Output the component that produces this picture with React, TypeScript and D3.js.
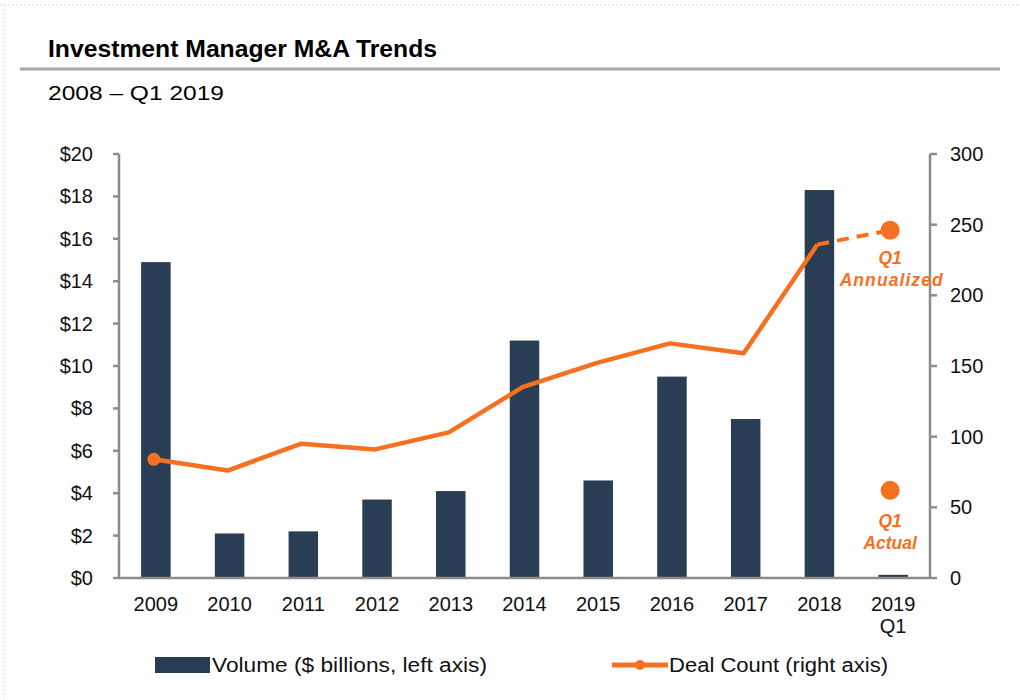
import React from "react";
import * as d3 from "d3";

const categories = ["2009", "2010", "2011", "2012", "2013", "2014", "2015", "2016", "2017", "2018", "2019 Q1"];
const volume = [14.9, 2.1, 2.2, 3.7, 4.1, 11.2, 4.6, 9.5, 7.5, 18.3, 0.15];
const dealCount = [84, 76, 95, 91, 103, 135, 152, 166, 159, 236];
const q1Annualized = 246;
const q1Actual = 62;
const leftTicks = [0, 2, 4, 6, 8, 10, 12, 14, 16, 18, 20];
const rightTicks = [0, 50, 100, 150, 200, 250, 300];

const W = 1020, H = 700;
const left = 119, right = 930, top = 154, bottom = 578;
const NAVY = "#293d55";
const ORANGE = "#f7701f";
const AXIS = "#8c8c8c";
const FONT = "'Liberation Sans', Arial, sans-serif";

export default function App() {
  const x = d3.scaleBand<string>().domain(categories).range([left, right]).paddingInner(0.6).paddingOuter(0.3);
  const yL = d3.scaleLinear().domain([0, 20]).range([bottom, top]);
  const yR = d3.scaleLinear().domain([0, 300]).range([bottom, top]);
  const cx = (c: string) => (x(c) as number) + x.bandwidth() / 2;

  const lineGen = d3.line<number>().x((_, i) => cx(categories[i]) - 2).y((d) => yR(d));
  const last = categories[categories.length - 1];
  const prev = categories[dealCount.length - 1];

  return (
    <svg width={W} height={H} style={{ position: "absolute", left: 0, top: 0, background: "#fff" }} fontFamily={FONT}>
      <line x1={0} x2={W} y1={5} y2={5} stroke="#d0d0d0" strokeDasharray="2,2" />
      <line x1={4} x2={4} y1={5} y2={H} stroke="#e0e0e0" strokeDasharray="2,2" />

      <text x={48} y={57} fontSize={23} fontWeight="bold" fill="#000" textLength={389} lengthAdjust="spacingAndGlyphs">
        Investment Manager M&amp;A Trends
      </text>
      <line x1={20} x2={1000} y1={69} y2={69} stroke="#a6a6a6" strokeWidth={3} />
      <text x={48} y={100} fontSize={21} fill="#000" textLength={176} lengthAdjust="spacingAndGlyphs">
        2008 – Q1 2019
      </text>

      {/* bars */}
      {volume.map((v, i) => (
        <rect key={i} x={x(categories[i])} y={yL(v)} width={x.bandwidth()} height={bottom - yL(v)} fill={NAVY} />
      ))}

      {/* axes */}
      <line x1={left} x2={left} y1={top} y2={bottom} stroke={AXIS} strokeWidth={2.5} />
      <line x1={right} x2={right} y1={top} y2={bottom} stroke={AXIS} strokeWidth={2.5} />
      <line x1={left} x2={right} y1={bottom} y2={bottom} stroke={AXIS} strokeWidth={2.5} />
      {leftTicks.map((t) => (
        <g key={"l" + t}>
          <line x1={left - 6} x2={left} y1={yL(t)} y2={yL(t)} stroke={AXIS} strokeWidth={2.5} />
          <text x={93} y={yL(t) + 7} fontSize={20} textAnchor="end" fill="#111">{"$" + t}</text>
        </g>
      ))}
      {rightTicks.map((t) => (
        <g key={"r" + t}>
          <line x1={right} x2={right + 7} y1={yR(t)} y2={yR(t)} stroke={AXIS} strokeWidth={2.5} />
          <text x={950} y={yR(t) + 7} fontSize={20} textAnchor="start" fill="#111">{t}</text>
        </g>
      ))}
      {categories.map((c) => {
        const parts = c.split(" ");
        return (
          <text key={c} x={cx(c)} y={611} fontSize={20} textAnchor="middle" fill="#111">
            {parts.map((p, j) => (
              <tspan key={j} x={cx(c)} dy={j === 0 ? 0 : 22}>{p}</tspan>
            ))}
          </text>
        );
      })}

      {/* line */}
      <path d={lineGen(dealCount) || ""} fill="none" stroke={ORANGE} strokeWidth={4.5} strokeLinejoin="round" />
      <circle cx={cx(categories[0]) - 2} cy={yR(dealCount[0])} r={6.5} fill={ORANGE} />
      <line x1={cx(prev) - 2} y1={yR(dealCount[dealCount.length - 1])} x2={cx(last) - 3} y2={yR(q1Annualized)}
        stroke={ORANGE} strokeWidth={4} strokeDasharray="12,8" />
      <circle cx={cx(last) - 3} cy={yR(q1Annualized)} r={9.5} fill={ORANGE} />
      <circle cx={cx(last) - 3} cy={yR(q1Actual)} r={9.5} fill={ORANGE} />

      <g fill={ORANGE} fontWeight="bold" fontStyle="italic" fontSize={17.5} textAnchor="middle">
        <text x={cx(last) - 3} y={264}>Q1</text>
        <text x={cx(last) - 2} y={286} textLength={103} lengthAdjust="spacing">Annualized</text>
        <text x={cx(last) - 3} y={527}>Q1</text>
        <text x={cx(last) - 3} y={549}>Actual</text>
      </g>

      {/* legend */}
      <rect x={155} y={657} width={55} height={16} fill={NAVY} />
      <text x={212} y={672} fontSize={20} fill="#111" textLength={275} lengthAdjust="spacingAndGlyphs">Volume ($ billions, left axis)</text>
      <line x1={612} x2={668} y1={665} y2={665} stroke={ORANGE} strokeWidth={5} />
      <circle cx={640} cy={665} r={5} fill={ORANGE} />
      <text x={669} y={672} fontSize={20} fill="#111" textLength={219} lengthAdjust="spacingAndGlyphs">Deal Count (right axis)</text>
    </svg>
  );
}
